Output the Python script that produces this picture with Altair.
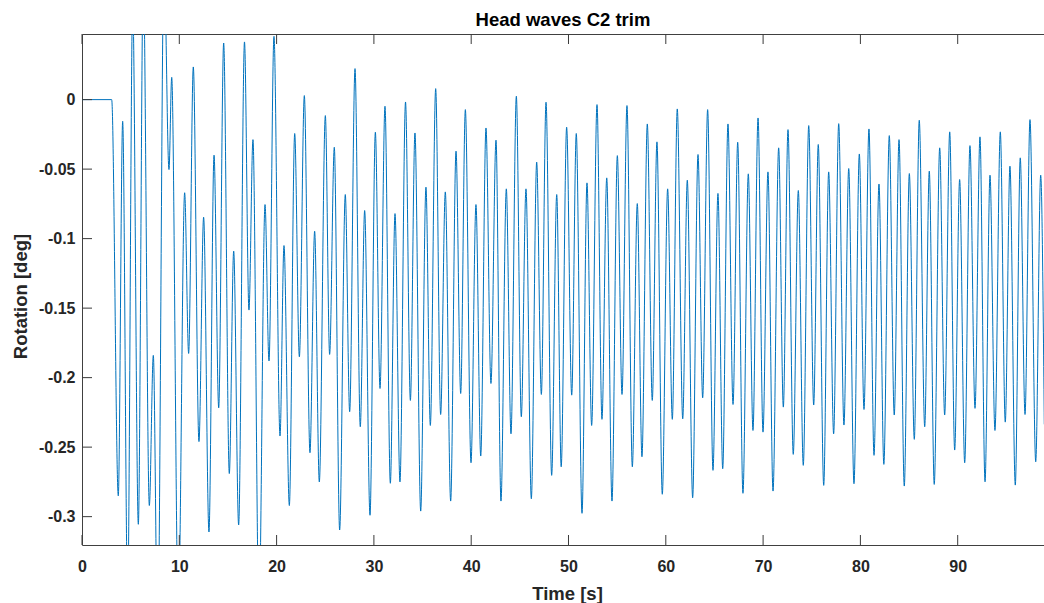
import altair as alt
import pandas as pd

# ---- data (time of each extremum [s], rotation [deg]) ----
t_s = [
    0.00, 3.05, 3.73, 4.18, 4.69, 5.21, 5.79, 6.30, 6.92, 7.33,
    7.78, 8.43, 8.94, 9.22, 9.90, 10.55, 10.96, 11.44, 12.02, 12.50,
    13.05, 13.57, 14.05, 14.56, 15.14, 15.59, 16.10, 16.70, 17.16, 17.57,
    18.19, 18.81, 19.22, 19.73, 20.35, 20.76, 21.31, 21.86, 22.34, 22.85,
    23.43, 23.91, 24.39, 25.01, 25.45, 25.93, 26.48, 27.06, 27.51, 28.06,
    28.60, 29.05, 29.60, 30.15, 30.63, 31.14, 31.69, 32.17, 32.68, 33.25,
    33.75, 34.22, 34.81, 35.35, 35.80, 36.35, 36.86, 37.34, 37.89, 38.44,
    38.92, 39.40, 39.98, 40.49, 40.98, 41.52, 42.03, 42.55, 43.06, 43.61,
    44.09, 44.64, 45.15, 45.63, 46.18, 46.73, 47.21, 47.69, 48.27, 48.79,
    49.25, 49.81, 50.33, 50.80, 51.39, 51.90, 52.38, 52.93, 53.44, 53.93,
    54.47, 55.02, 55.50, 56.01, 56.56, 57.07, 57.55, 58.10, 58.61, 59.09,
    59.64, 60.19, 60.67, 61.18, 61.74, 62.21, 62.76, 63.31, 63.79, 64.30,
    64.85, 65.36, 65.85, 66.39, 66.91, 67.39, 67.93, 68.48, 68.96, 69.48,
    69.99, 70.50, 71.02, 71.60, 72.08, 72.56, 73.10, 73.62, 74.13, 74.69,
    75.20, 75.67, 76.23, 76.74, 77.25, 77.77, 78.31, 78.80, 79.34, 79.89,
    80.37, 80.88, 81.40, 81.91, 82.41, 82.97, 83.48, 83.97, 84.51, 85.03,
    85.54, 86.05, 86.61, 87.08, 87.59, 88.15, 88.66, 89.18, 89.69, 90.20,
    90.72, 91.26, 91.78, 92.29, 92.81, 93.32, 93.83, 94.38, 94.89, 95.37,
    95.92, 96.43, 96.92, 97.43, 98.02, 98.53, 98.90,
]

rot_deg = [
    0.0, 0.0, -0.285, -0.0156, -0.36, 0.07, -0.3055, 0.09, -0.292, -0.184,
    -0.39, 0.10, -0.0503, 0.016, -0.37, -0.067, -0.1826, 0.0235, -0.246, -0.0846,
    -0.311, -0.040, -0.2217, 0.0407, -0.269, -0.109, -0.306, 0.0415, -0.1514, -0.0288,
    -0.37, -0.0755, -0.188, 0.0455, -0.242, -0.105, -0.292, -0.0244, -0.185, 0.0029,
    -0.254, -0.0947, -0.275, -0.0115, -0.1833, -0.0343, -0.3096, -0.0683, -0.2245, 0.0223,
    -0.2353, -0.0798, -0.299, -0.0235, -0.2078, -0.0048, -0.276, -0.082, -0.275, -0.0017,
    -0.2164, -0.024, -0.296, -0.063, -0.2344, 0.0079, -0.2265, -0.0664, -0.2888, -0.0371,
    -0.2114, -0.0072, -0.2612, -0.0755, -0.2564, -0.0204, -0.2042, -0.0292, -0.2888, -0.0642,
    -0.2404, 0.0024, -0.2281, -0.0642, -0.2871, -0.045, -0.2121, -0.0019, -0.2703, -0.0683,
    -0.2641, -0.0199, -0.2126, -0.0244, -0.2976, -0.0599, -0.2344, -0.0036, -0.23, -0.0563,
    -0.2888, -0.0403, -0.2121, -0.0043, -0.2641, -0.0748, -0.2569, -0.0175, -0.2164, -0.0304,
    -0.2839, -0.0642, -0.23, -0.0067, -0.2296, -0.058, -0.2864, -0.0395, -0.2145, -0.0072,
    -0.2667, -0.0675, -0.2655, -0.0175, -0.2193, -0.0307, -0.2832, -0.0534, -0.238, -0.0132,
    -0.2392, -0.052, -0.2816, -0.0347, -0.2212, -0.0216, -0.2552, -0.0654, -0.2631, -0.0187,
    -0.2197, -0.0323, -0.2775, -0.052, -0.2404, -0.0173, -0.2341, -0.0496, -0.2763, -0.0391,
    -0.2229, -0.0211, -0.2559, -0.0607, -0.2624, -0.0259, -0.2269, -0.0288, -0.278, -0.0532,
    -0.2444, -0.0149, -0.2353, -0.0515, -0.2768, -0.0347, -0.2269, -0.0232, -0.2521, -0.0575,
    -0.2612, -0.0331, -0.2221, -0.0268, -0.2749, -0.0544, -0.238, -0.0232, -0.232, -0.0479,
    -0.2773, -0.0419, -0.2265, -0.0144, -0.2605, -0.0544, -0.2336,
]

x_ticks = [0, 10, 20, 30, 40, 50, 60, 70, 80, 90]
y_ticks = [0, -0.05, -0.1, -0.15, -0.2, -0.25, -0.3]

title_text = "Head waves C2 trim"
x_title = "Time [s]"
y_title = "Rotation [deg]"

x_domain = [0, 98.87]
y_domain = [-0.3204, 0.0472]

assert len(t_s) == len(rot_deg)

df = pd.DataFrame({"t": t_s, "v": rot_deg})
xt = pd.DataFrame({"t": x_ticks})
yt = pd.DataFrame({"v": y_ticks})

W, H = 962, 511
FONT = "Liberation Sans"
TXT = "#262626"

xscale = alt.Scale(domain=x_domain, nice=False, zero=False)
yscale = alt.Scale(domain=y_domain, nice=False, zero=False)

x_axis = alt.Axis(
    values=x_ticks, title=x_title, format="d", grid=False, ticks=False, domain=False,
    labelFlush=False, labelPadding=13, titleX=485, titleY=54,
    titleBaseline="alphabetic")
y_axis = alt.Axis(
    values=y_ticks, title=y_title, grid=False, ticks=False, domain=False,
    labelFlush=False, labelPadding=7,
    labelExpr="datum.value == 0 ? '0' : '-' + format(-datum.value, '.2~f')",
    titleX=-56, titleY=262, titleBaseline="alphabetic")

line = alt.Chart(df).mark_line(
    interpolate="monotone", clip=True, color="#0072BD", strokeWidth=1
).encode(
    x=alt.X("t:Q", scale=xscale, axis=x_axis, title=x_title),
    y=alt.Y("v:Q", scale=yscale, axis=y_axis, title=y_title),
)

tick_style = dict(color="#3a3a3a", strokeWidth=1)

bottom_ticks = alt.Chart(xt).mark_rule(**tick_style).encode(
    x=alt.X("t:Q", scale=xscale, title=x_title),
    y=alt.value(H), y2=alt.value(H - 10),
)
top_ticks = alt.Chart(xt).mark_rule(**tick_style).encode(
    x=alt.X("t:Q", scale=xscale, title=x_title),
    y=alt.value(0), y2=alt.value(10),
)
left_ticks = alt.Chart(yt).mark_rule(**tick_style).encode(
    y=alt.Y("v:Q", scale=yscale, title=y_title),
    x=alt.value(0), x2=alt.value(10),
)

chart = alt.layer(line, bottom_ticks, top_ticks, left_ticks).properties(
    width=W, height=H,
    background="white",
    title=alt.Title(title_text, font=FONT, fontSize=18.5, fontWeight="bold",
                    color="#000000", anchor="middle", offset=4),
    autosize=alt.AutoSizeParams(type="none"),
    padding={"left": 82, "top": 34, "right": 0, "bottom": 58},
).configure_view(
    stroke="#404040", strokeWidth=1
).configure_axis(
    domain=False, grid=False, ticks=False,
    labelFont=FONT, labelFontSize=16, labelFontWeight="bold", labelColor=TXT,
    titleFont=FONT, titleFontSize=18.5, titleFontWeight="bold", titleColor=TXT,
)

chart.save("out.html", embed_options={"renderer": "svg", "actions": False})
